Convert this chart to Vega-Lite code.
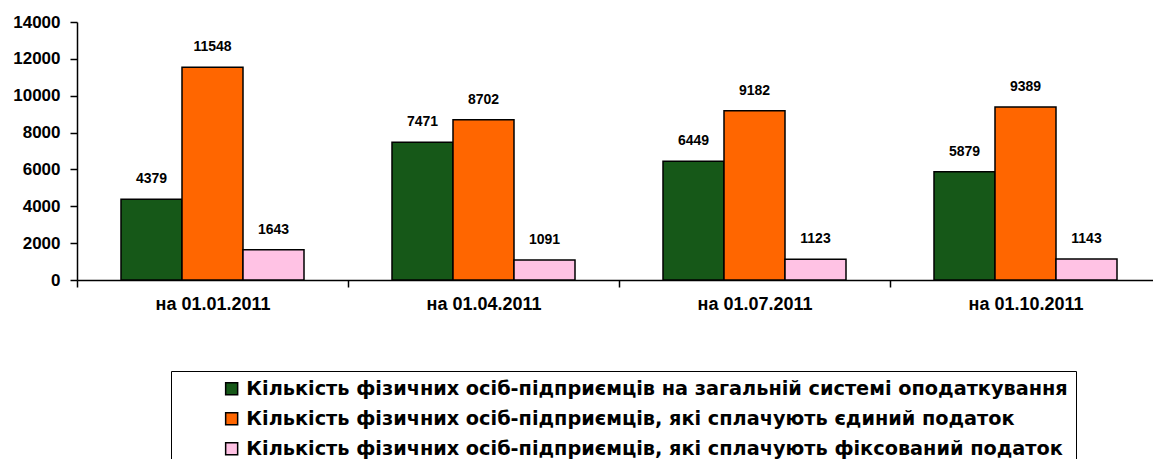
{
  "$schema": "https://vega.github.io/schema/vega-lite/v6.json",
  "width": 1084,
  "height": 258,
  "autosize": "none",
  "padding": {"left": 77, "top": 22, "right": 0, "bottom": 179},
  "background": "white",
  "config": {
    "view": {"stroke": null},
    "font": "Liberation Sans"
  },
  "data": {
    "values": [
      {"date": "на 01.01.2011", "series": "Кількість фізичних осіб-підприємців на загальній системі оподаткування", "value": 4379},
      {"date": "на 01.01.2011", "series": "Кількість фізичних осіб-підприємців, які сплачують єдиний податок", "value": 11548},
      {"date": "на 01.01.2011", "series": "Кількість фізичних осіб-підприємців, які сплачують фіксований податок", "value": 1643},
      {"date": "на 01.04.2011", "series": "Кількість фізичних осіб-підприємців на загальній системі оподаткування", "value": 7471},
      {"date": "на 01.04.2011", "series": "Кількість фізичних осіб-підприємців, які сплачують єдиний податок", "value": 8702},
      {"date": "на 01.04.2011", "series": "Кількість фізичних осіб-підприємців, які сплачують фіксований податок", "value": 1091},
      {"date": "на 01.07.2011", "series": "Кількість фізичних осіб-підприємців на загальній системі оподаткування", "value": 6449},
      {"date": "на 01.07.2011", "series": "Кількість фізичних осіб-підприємців, які сплачують єдиний податок", "value": 9182},
      {"date": "на 01.07.2011", "series": "Кількість фізичних осіб-підприємців, які сплачують фіксований податок", "value": 1123},
      {"date": "на 01.10.2011", "series": "Кількість фізичних осіб-підприємців на загальній системі оподаткування", "value": 5879},
      {"date": "на 01.10.2011", "series": "Кількість фізичних осіб-підприємців, які сплачують єдиний податок", "value": 9389},
      {"date": "на 01.10.2011", "series": "Кількість фізичних осіб-підприємців, які сплачують фіксований податок", "value": 1143}
    ]
  },
  "encoding": {
    "x": {
      "field": "date",
      "type": "nominal",
      "sort": null,
      "scale": {"paddingInner": 0, "paddingOuter": 0},
      "axis": {
        "title": null,
        "labelAngle": 0,
        "ticks": true,
        "tickBand": "extent",
        "tickSize": 7,
        "tickColor": "black",
        "tickWidth": 1.5,
        "domainColor": "black",
        "domainWidth": 1.5,
        "labelFont": "Liberation Sans",
        "labelFontWeight": "bold",
        "labelFontSize": 18,
        "labelColor": "black",
        "labelPadding": 8
      }
    },
    "y": {
      "field": "value",
      "type": "quantitative",
      "scale": {"domain": [0, 14000], "nice": false},
      "axis": {
        "title": null,
        "values": [0, 2000, 4000, 6000, 8000, 10000, 12000, 14000],
        "format": "d",
        "grid": false,
        "ticks": true,
        "tickSize": 7,
        "tickColor": "black",
        "tickWidth": 1.5,
        "domainColor": "black",
        "domainWidth": 1.5,
        "labelFont": "Liberation Sans",
        "labelFontWeight": "bold",
        "labelFontSize": 17,
        "labelColor": "black",
        "labelPadding": 10
      }
    }
  },
  "layer": [
    {
      "mark": {"type": "bar", "stroke": "black", "strokeWidth": 1.5},
      "encoding": {
        "xOffset": {
          "field": "series",
          "type": "nominal",
          "sort": null,
          "scale": {
            "domain": [
              "Кількість фізичних осіб-підприємців на загальній системі оподаткування",
              "Кількість фізичних осіб-підприємців, які сплачують єдиний податок",
              "Кількість фізичних осіб-підприємців, які сплачують фіксований податок"
            ],
            "paddingInner": 0,
            "paddingOuter": 0.7213
          }
        },
        "color": {
          "field": "series",
          "type": "nominal",
          "scale": {
            "domain": [
              "Кількість фізичних осіб-підприємців на загальній системі оподаткування",
              "Кількість фізичних осіб-підприємців, які сплачують єдиний податок",
              "Кількість фізичних осіб-підприємців, які сплачують фіксований податок"
            ],
            "range": ["#165818", "#ff6600", "#ffc2e4"]
          },
          "legend": {
            "orient": "none",
            "legendX": 94,
            "legendY": 349,
            "direction": "vertical",
            "strokeColor": "black",
            "padding": 8,
            "symbolType": "square",
            "symbolSize": 144,
            "symbolStrokeColor": "black",
            "symbolStrokeWidth": 1.5,
            "symbolOpacity": 1,
            "labelFont": "DejaVu Sans",
            "labelFontWeight": "bold",
            "labelFontSize": 19.3,
            "labelColor": "black",
            "labelOffset": 5,
            "labelLimit": 2000,
            "labelExpr": "datum.label + '\u00a0\u00a0\u00a0\u00a0'",
            "rowPadding": 10,
            "title": "\u00a0",
            "titleOrient": "left",
            "titlePadding": 43
          }
        }
      }
    },
    {
      "mark": {
        "type": "text",
        "font": "Liberation Sans",
        "fontWeight": "bold",
        "fontSize": 14,
        "color": "black",
        "baseline": "middle",
        "dy": -20
      },
      "encoding": {
        "xOffset": {"field": "series", "type": "nominal", "sort": null},
        "text": {"field": "value", "type": "quantitative", "format": "d"}
      }
    },
    {
      "transform": [{"aggregate": [{"op": "count", "as": "n"}], "groupby": ["date"]}],
      "mark": {"type": "rule", "stroke": "black", "strokeWidth": 1.5, "clip": false},
      "encoding": {
        "x": {"field": "date", "type": "nominal", "sort": null, "bandPosition": 0},
        "y": {"datum": 0},
        "y2": {"datum": -380}
      }
    }
  ]
}
